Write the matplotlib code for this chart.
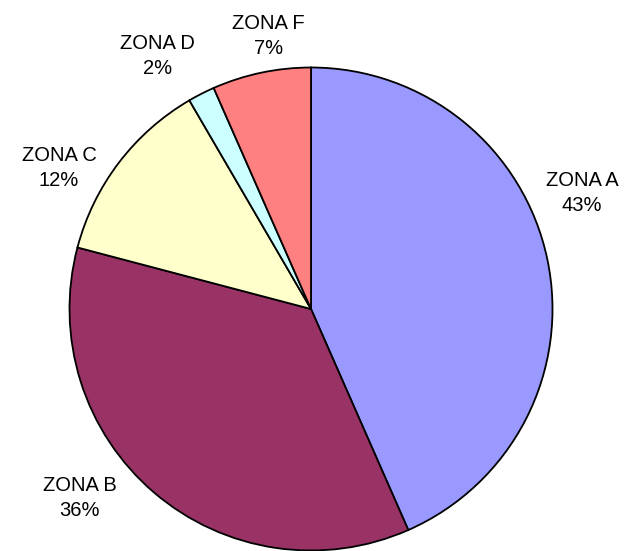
import matplotlib.pyplot as plt

plt.rcParams['font.family'] = ['Liberation Sans', 'DejaVu Sans']

# datos
zonas = ['ZONA A', 'ZONA B', 'ZONA C', 'ZONA D', 'ZONA F']
valores = [43.4, 35.7, 12.5, 1.8, 6.6]
etiquetas_pct = ['43%', '36%', '12%', '2%', '7%']
colores = ['#9999FF', '#993366', '#FFFFCC', '#CCFFFF', '#FF8080']

# posicion de las etiquetas (radio del pastel = 1)
pos_etiquetas = [(1.122, 0.480), (-0.959, -0.783), (-1.043, 0.584),
                 (-0.636, 1.046), (-0.176, 1.130)]

W, H = 624, 551
cx, cy, r = 311, 309, 241.5

fig = plt.figure(figsize=(W / 100, H / 100), dpi=100)
ax = fig.add_axes([0, 0, 1, 1])

wedges, textos = ax.pie(valores, colors=colores, startangle=90, counterclock=False,
                        labels=[f'{z}\n{p}' for z, p in zip(zonas, etiquetas_pct)],
                        wedgeprops=dict(edgecolor='black', linewidth=1.3),
                        textprops=dict(fontsize=14.5, ha='center', va='center'))

for t, pos in zip(textos, pos_etiquetas):
    t.set_position(pos)
    t.set_ha('center')
    t.set_va('center')
    t.set_multialignment('center')
    t.set_linespacing(1.4)

ax.set_xlim(-cx / r, (W - cx) / r)
ax.set_ylim(-(H - cy) / r, cy / r)
ax.axis('off')

fig.savefig('out.png', dpi=100)
